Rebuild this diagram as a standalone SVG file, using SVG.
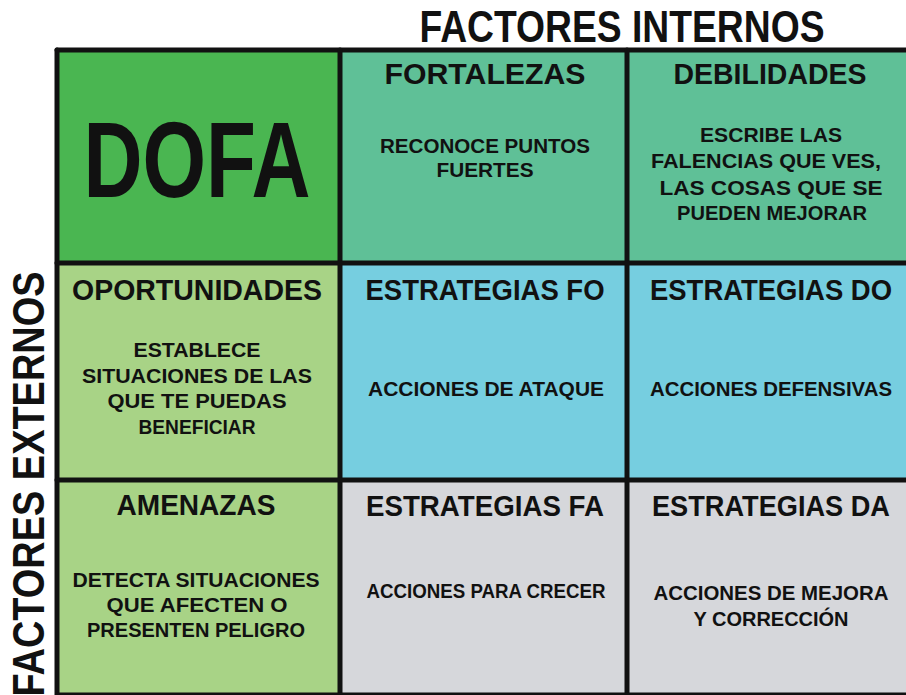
<svg xmlns="http://www.w3.org/2000/svg" width="906" height="695" viewBox="0 0 906 695">
<style>
text{font-family:"Liberation Sans",Arial,sans-serif;font-weight:bold;fill:#111;text-anchor:middle}
.h{font-size:29px}
.b{font-size:20px}
.t{font-size:44px}
.grid line{stroke:#111;stroke-width:5;stroke-linecap:round}
</style>
<rect width="906" height="695" fill="#fff"/>
<g id="dofa"><rect x="57" y="50" width="283" height="213" fill="#4ab651"/>
<text x="197" y="197" style="font-size:108px" textLength="227" lengthAdjust="spacingAndGlyphs">DOFA</text></g>
<g id="fortalezas"><rect x="340" y="50" width="287" height="213" fill="#5fc097"/>
<text class="h" x="485" y="84" textLength="201" lengthAdjust="spacingAndGlyphs">FORTALEZAS</text>
<text class="b" x="485" y="153" textLength="210" lengthAdjust="spacingAndGlyphs">RECONOCE PUNTOS</text>
<text class="b" x="485" y="177" textLength="97" lengthAdjust="spacingAndGlyphs">FUERTES</text></g>
<g id="debilidades"><rect x="627" y="50" width="279" height="213" fill="#5fc097"/>
<text class="h" x="770" y="84" textLength="193" lengthAdjust="spacingAndGlyphs">DEBILIDADES</text>
<text class="b" x="771" y="142" textLength="142" lengthAdjust="spacingAndGlyphs">ESCRIBE LAS</text>
<text class="b" x="766" y="168" textLength="230" lengthAdjust="spacingAndGlyphs">FALENCIAS QUE VES,</text>
<text class="b" x="771" y="195" textLength="223" lengthAdjust="spacingAndGlyphs">LAS COSAS QUE SE</text>
<text class="b" x="772" y="220" textLength="190" lengthAdjust="spacingAndGlyphs">PUEDEN MEJORAR</text></g>
<g id="oportunidades"><rect x="57" y="263" width="283" height="217" fill="#a8d386"/>
<text class="h" x="197" y="300" textLength="250" lengthAdjust="spacingAndGlyphs">OPORTUNIDADES</text>
<text class="b" x="197" y="357" textLength="127" lengthAdjust="spacingAndGlyphs">ESTABLECE</text>
<text class="b" x="197" y="383" textLength="230" lengthAdjust="spacingAndGlyphs">SITUACIONES DE LAS</text>
<text class="b" x="197" y="408" textLength="179" lengthAdjust="spacingAndGlyphs">QUE TE PUEDAS</text>
<text class="b" x="197" y="434" textLength="117" lengthAdjust="spacingAndGlyphs">BENEFICIAR</text></g>
<g id="estrategias-fo"><rect x="340" y="263" width="287" height="217" fill="#76cee0"/>
<text class="h" x="485" y="300" textLength="239" lengthAdjust="spacingAndGlyphs">ESTRATEGIAS FO</text>
<text class="b" x="486" y="396" textLength="236" lengthAdjust="spacingAndGlyphs">ACCIONES DE ATAQUE</text></g>
<g id="estrategias-do"><rect x="627" y="263" width="279" height="217" fill="#76cee0"/>
<text class="h" x="771" y="300" textLength="242" lengthAdjust="spacingAndGlyphs">ESTRATEGIAS DO</text>
<text class="b" x="771" y="396" textLength="242" lengthAdjust="spacingAndGlyphs">ACCIONES DEFENSIVAS</text></g>
<g id="amenazas"><rect x="57" y="480" width="283" height="215" fill="#a8d386"/>
<text class="h" x="196" y="515" textLength="159" lengthAdjust="spacingAndGlyphs">AMENAZAS</text>
<text class="b" x="196" y="587" textLength="247" lengthAdjust="spacingAndGlyphs">DETECTA SITUACIONES</text>
<text class="b" x="197" y="612" textLength="181" lengthAdjust="spacingAndGlyphs">QUE AFECTEN O</text>
<text class="b" x="196" y="637" textLength="218" lengthAdjust="spacingAndGlyphs">PRESENTEN PELIGRO</text></g>
<g id="estrategias-fa"><rect x="340" y="480" width="287" height="215" fill="#d6d7db"/>
<text class="h" x="485" y="516" textLength="238" lengthAdjust="spacingAndGlyphs">ESTRATEGIAS FA</text>
<text class="b" x="486" y="598" textLength="239" lengthAdjust="spacingAndGlyphs">ACCIONES PARA CRECER</text></g>
<g id="estrategias-da"><rect x="627" y="480" width="279" height="215" fill="#d6d7db"/>
<text class="h" x="771" y="516" textLength="238" lengthAdjust="spacingAndGlyphs">ESTRATEGIAS DA</text>
<text class="b" x="771" y="600" textLength="235" lengthAdjust="spacingAndGlyphs">ACCIONES DE MEJORA</text>
<text class="b" x="771" y="626" textLength="155" lengthAdjust="spacingAndGlyphs">Y CORRECCIÓN</text></g>
<g class="grid" id="grid">
<line x1="57" y1="50" x2="906" y2="50"/>
<line x1="57" y1="50" x2="57" y2="695"/>
<line x1="340" y1="50" x2="340" y2="695"/>
<line x1="627" y1="50" x2="627" y2="695"/>
<line x1="57" y1="263" x2="906" y2="263"/>
<line x1="57" y1="480" x2="906" y2="480"/>
<line x1="57" y1="694" x2="906" y2="694" style="stroke-width:3"/>
</g>
<g id="factores-internos"><text class="t" x="622" y="42" textLength="405" lengthAdjust="spacingAndGlyphs">FACTORES INTERNOS</text></g>
<g id="factores-externos"><text class="t" transform="translate(44 484) rotate(-90)" x="0" y="0" textLength="425" lengthAdjust="spacingAndGlyphs">FACTORES EXTERNOS</text></g>
</svg>
